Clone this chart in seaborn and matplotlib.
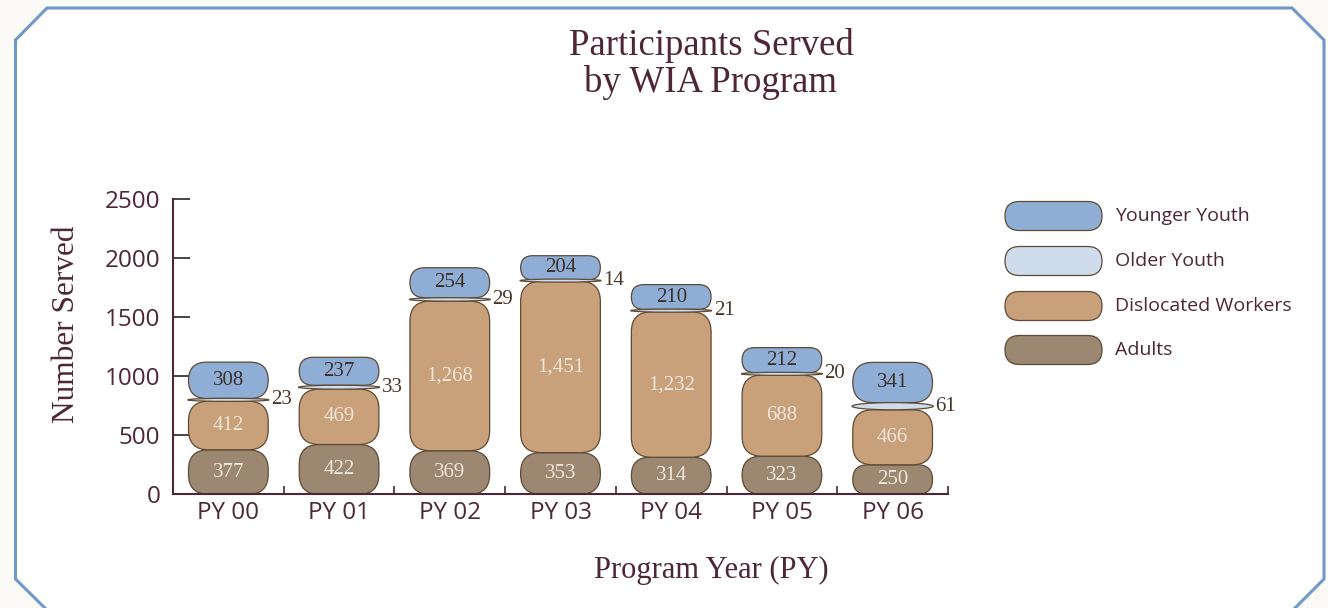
import numpy as np
import pandas as pd
import matplotlib
matplotlib.use("Agg")
import matplotlib.pyplot as plt
import seaborn as sns
from matplotlib.patches import FancyBboxPatch, Ellipse, Polygon

# -------------------
# Data
years = ["PY 00", "PY 01", "PY 02", "PY 03", "PY 04", "PY 05", "PY 06"]
adults = [377, 422, 369, 353, 314, 323, 250]
dislocated = [412, 469, 1268, 1451, 1232, 688, 466]
older_youth = [23, 33, 29, 14, 21, 20, 61]
younger_youth = [308, 237, 254, 204, 210, 212, 341]

series_names = ["Younger Youth", "Older Youth", "Dislocated Workers", "Adults"]
colors = {"Younger Youth": "#8EAED6", "Older Youth": "#CFDCEC",
          "Dislocated Workers": "#C8A07A", "Adults": "#9C8770"}
edge = "#5E4A35"
maroon = "#4D2637"

# -------------------
# Style
sns.set_style("ticks")
plt.rcParams["font.family"] = ["Open Sans", "DejaVu Sans"]
serif = ["Liberation Serif", "DejaVu Serif"]

W, H = 1328, 608
fig = plt.figure(figsize=(W / 100, H / 100), dpi=100)
fig.patch.set_facecolor("#FBFAF7")

# panel with cut corners
pts = [(15.5, 40), (47, 8), (1292, 8), (1324, 40), (1324, 579),
       (1288, 615), (52, 615), (15.5, 579)]
panel = Polygon([(x / W, 1 - y / H) for x, y in pts], closed=True,
                transform=fig.transFigure, facecolor="white",
                edgecolor="#7099C8", linewidth=2.2, zorder=0)
fig.add_artist(panel)

# axes placement (pixels)
ax_l, ax_r, ax_t, ax_b = 173, 948, 199.3, 494.3
ax = fig.add_axes([ax_l / W, 1 - ax_b / H, (ax_r - ax_l) / W, (ax_b - ax_t) / H])
ax.set_facecolor("none")
ax.set_xlim(-0.5, 6.5)
ax.set_ylim(0, 2500)

px_x = (ax_r - ax_l) / 7.0      # pixels per x unit
px_y = (ax_b - ax_t) / 2500.0   # pixels per y unit
aspect = px_x / px_y

bar_w = 0.72
stack = [("Adults", adults), ("Dislocated Workers", dislocated),
         ("Older Youth", older_youth), ("Younger Youth", younger_youth)]
bottom = np.zeros(len(years))

for name, vals in stack:
    n0 = len(ax.patches)
    sns.barplot(x=years, y=vals, color=colors[name], saturation=1,
                width=bar_w, ax=ax, zorder=2)
    new = ax.patches[n0:]
    for i, p in enumerate(new):
        x0, w = p.get_x(), p.get_width()
        p.remove()
        v = vals[i]
        b = bottom[i]
        if name == "Older Youth":
            h = max(v, 26)
            el = Ellipse((x0 + w / 2, b + v / 2), w * 1.02, h,
                         facecolor=colors[name], edgecolor=edge,
                         linewidth=0.9, zorder=3)
            ax.add_patch(el)
            ax.text(x0 + w + 0.025, b + v / 2, f"{v:,}", ha="left",
                    va="center", fontsize=15, family=serif, color="#4A3626")
        else:
            r_px = min(20, v * px_y / 2)
            box = FancyBboxPatch((x0, b), w, v,
                                 boxstyle=f"round,pad=0,rounding_size={r_px / px_x:.4f}",
                                 mutation_aspect=aspect,
                                 facecolor=colors[name], edgecolor=edge,
                                 linewidth=0.9, zorder=2)
            ax.add_patch(box)
            tc = "#3E2F28" if name == "Younger Youth" else "#EDE6DC"
            ax.text(x0 + w / 2, b + v / 2, f"{v:,}", ha="center",
                    va="center", fontsize=15, family=serif, color=tc, zorder=4)
    bottom = bottom + np.array(vals)

ax.set_xlim(-0.5, 6.5)
ax.set_ylim(0, 2500)

# axes styling
sns.despine(ax=ax)
for s in ["left", "bottom"]:
    ax.spines[s].set_color(maroon)
    ax.spines[s].set_linewidth(1.5)
ax.set_yticks([0, 500, 1000, 1500, 2000, 2500])
ax.tick_params(axis="y", direction="in", length=12, width=1.2, color="#2B2326",
               labelsize=17.5, labelcolor=maroon, pad=9)
ax.tick_params(axis="x", which="major", length=0, labelsize=17.5,
               labelcolor=maroon, pad=5)
ax.set_xticks(np.arange(0.5, 7, 1), minor=True)
ax.tick_params(axis="x", which="minor", direction="in", length=6, width=1.2,
               color=maroon)

ax.set_ylabel("Number Served", family=serif, fontsize=22.5, color=maroon, va="center")
ax.yaxis.set_label_coords((66 - ax_l) / (ax_r - ax_l), (ax_b - 324) / (ax_b - ax_t))
ax.set_xlabel("Program Year (PY)", family=serif, fontsize=22, color=maroon, va="center")
ax.xaxis.set_label_coords((711 - ax_l) / (ax_r - ax_l), -(570 - ax_b) / (ax_b - ax_t))

fig.text(711 / W, 1 - 64 / H, "Participants Served\nby WIA Program", ha="center",
         va="center", family=serif, fontsize=26.5, color=maroon, linespacing=1.05)

# legend
leg_y = [216, 261, 306, 350]
fasp = (1 / H) / (1 / W)
for name, yc in zip(series_names, leg_y):
    pill = FancyBboxPatch((1005 / W, 1 - (yc + 14.5) / H), 97 / W, 29 / H,
                          boxstyle=f"round,pad=0,rounding_size={14.5 / W:.5f}",
                          mutation_aspect=fasp, transform=fig.transFigure,
                          facecolor=colors[name], edgecolor=edge, linewidth=0.9)
    fig.add_artist(pill)
    fig.text(1115 / W, 1 - yc / H, name, ha="left", va="center", fontsize=14,
             color=maroon)

fig.savefig("out.png", dpi=100, facecolor=fig.get_facecolor())
